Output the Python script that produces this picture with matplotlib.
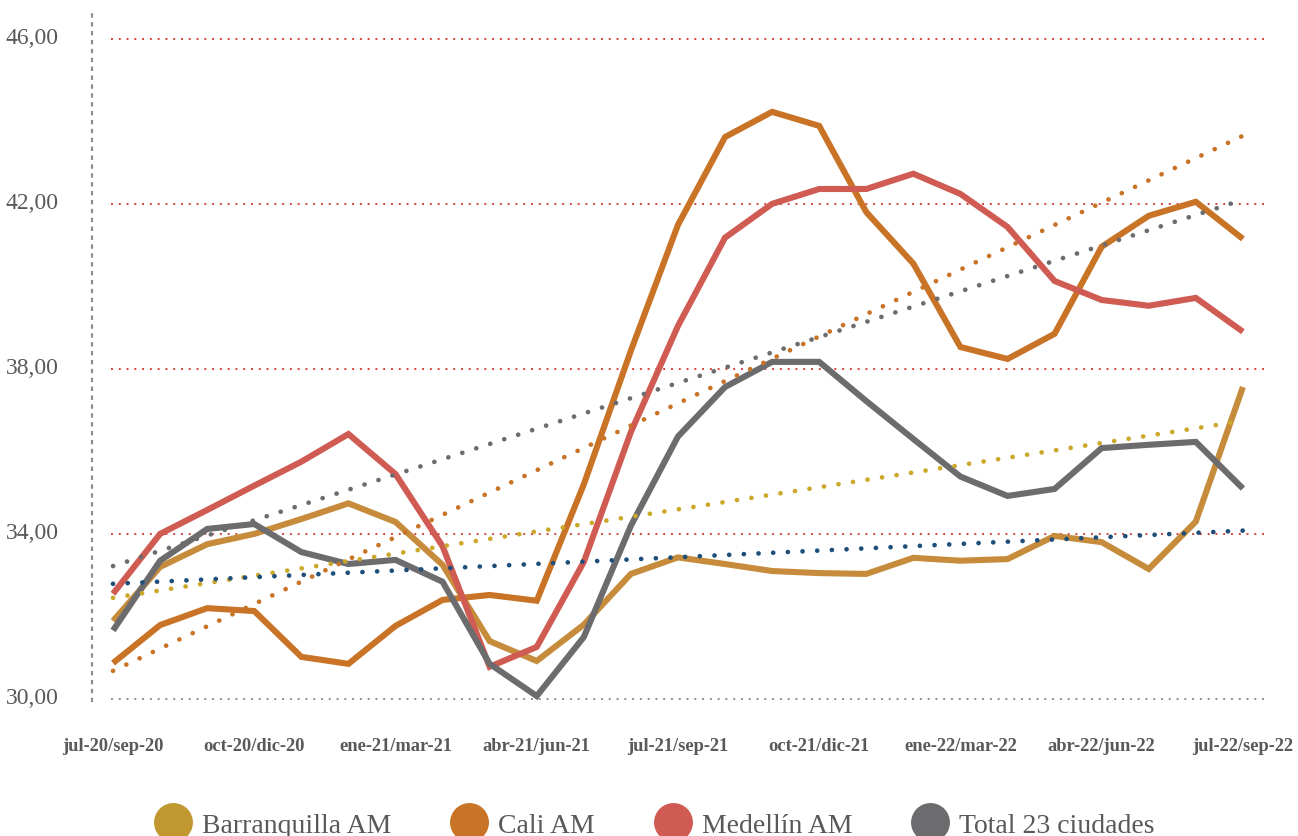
import matplotlib.pyplot as plt
import matplotlib.transforms as mtrans
from matplotlib.lines import Line2D
import numpy as np

# Periods (rolling quarters)
periods = ["jul-20/sep-20", "ago-20/oct-20", "sep-20/nov-20", "oct-20/dic-20",
           "nov-20/ene-21", "dic-20/feb-21", "ene-21/mar-21", "feb-21/abr-21",
           "mar-21/may-21", "abr-21/jun-21", "may-21/jul-21", "jun-21/ago-21",
           "jul-21/sep-21", "ago-21/oct-21", "sep-21/nov-21", "oct-21/dic-21",
           "nov-21/ene-22", "dic-21/feb-22", "ene-22/mar-22", "feb-22/abr-22",
           "mar-22/may-22", "abr-22/jun-22", "may-22/jul-22", "jun-22/ago-22",
           "jul-22/sep-22"]

barranquilla = [31.89, 33.20, 33.75, 34.00, 34.36, 34.74, 34.29, 33.25, 31.40, 30.92,
                31.80, 33.03, 33.43, 33.27, 33.10, 33.05, 33.03, 33.42, 33.35, 33.39,
                33.95, 33.80, 33.15, 34.30, 37.56]
cali = [30.87, 31.79, 32.20, 32.13, 31.02, 30.85, 31.77, 32.40, 32.52, 32.38,
        35.20, 38.44, 41.49, 43.62, 44.23, 43.89, 41.80, 40.55, 38.53, 38.24,
        38.85, 40.96, 41.71, 42.05, 41.15]
medellin = [32.55, 34.00, 34.58, 35.17, 35.75, 36.42, 35.45, 33.70, 30.78, 31.26,
            33.32, 36.47, 39.04, 41.18, 42.00, 42.36, 42.36, 42.73, 42.24, 41.44,
            40.13, 39.67, 39.53, 39.72, 38.90]
total = [31.66, 33.35, 34.12, 34.24, 33.56, 33.27, 33.37, 32.84, 30.85, 30.07,
         31.50, 34.20, 36.36, 37.56, 38.17, 38.17, 37.22, 36.30, 35.39, 34.92,
         35.09, 36.08, 36.16, 36.23, 35.10]

# linear trend lines (start, end)
trend_total = [33.22, 42.10]
trend_cali = [30.68, 43.65]
trend_gold = [32.45, 36.74]
trend_blue = [32.79, 34.08]

names = ["Barranquilla AM", "Cali AM", "Medellín AM", "Total 23 ciudades"]
line_colors = ["#C68C3B", "#C87325", "#CF5B52", "#6C6C6F"]
legend_colors = ["#C0982F", "#C87325", "#CF5B52", "#6C6C6F"]

plt.rcParams['font.family'] = ['Liberation Serif', 'DejaVu Serif']

fig = plt.figure(figsize=(12.98, 8.37), dpi=100)
ax = fig.add_axes([0.0709, 0.1613, 0.9037, 0.8207])

x = np.arange(len(periods))

for vals, c in zip([barranquilla, cali, medellin, total], line_colors):
    ax.plot(x, vals, color=c, lw=4.4, solid_capstyle='butt', solid_joinstyle='miter', zorder=3)

xe = [0, len(periods) - 1]
for tr, c in zip([trend_total, trend_cali, trend_gold, trend_blue],
                 ["#6C6C6F", "#C87325", "#CCA82A", "#1D4F7A"]):
    ax.plot(xe, tr, color=c, lw=3.4, linestyle=(0, (0.01, 3.1)),
            dash_capstyle='round', zorder=4)

# grid lines
for g in [34, 38, 42, 46]:
    ax.plot([-0.05, 24.45], [g, g], color="#D4443F", lw=1.4,
            linestyle=(0, (1, 3)), zorder=1)
ax.plot([-0.05, 24.45], [30, 30], color="#8E8E8E", lw=1.4,
        linestyle=(0, (1, 3)), zorder=1)

ax.set_xlim(-0.446, 24.47)
ax.set_ylim(29.95, 46.6)

for s in ['top', 'right', 'bottom']:
    ax.spines[s].set_visible(False)
ax.spines['left'].set_color("#8E8E8E")
ax.spines['left'].set_linewidth(1.6)
ax.spines['left'].set_linestyle((0, (1, 3)))

ax.set_yticks([30, 34, 38, 42, 46])
ax.set_yticklabels(["30,00", "34,00", "38,00", "42,00", "46,00"])
ax.set_xticks(x[::3])
ax.set_xticklabels(periods[::3], fontweight='bold')
ax.tick_params(axis='y', length=0, pad=24, labelsize=17, labelcolor="#595959")
ax.tick_params(axis='x', length=0, pad=26, labelsize=13.3, labelcolor="#595959")

# y labels sit a little above their grid lines
shift = mtrans.ScaledTranslation(0, 4 / 100, fig.dpi_scale_trans)
for lab in ax.get_yticklabels():
    lab.set_transform(lab.get_transform() + shift)

handles = [Line2D([], [], marker='o', linestyle='none', markersize=27,
                  markerfacecolor=c, markeredgecolor=c) for c in legend_colors]
fig.legend(handles, names, loc='center', bbox_to_anchor=(0.505, 0.013), ncol=4,
           frameon=False, fontsize=20, labelcolor="#595959",
           handletextpad=0.45, columnspacing=2.2, handlelength=1.2)

fig.savefig("out.png", dpi=100)
